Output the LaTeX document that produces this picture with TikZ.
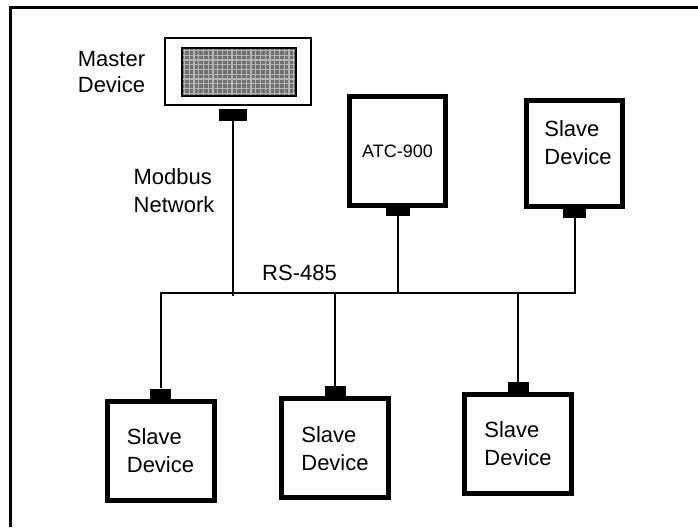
\documentclass[tikz,border=0pt]{standalone}
\usepackage{fontspec}
\setmainfont{Liberation Sans}
\pgfdeclarelayer{edgelayer}
\pgfdeclarelayer{nodelayer}
\pgfsetlayers{edgelayer,nodelayer,main}
\definecolor{screen}{RGB}{112,112,112}
\definecolor{screenline}{RGB}{180,180,180}
\tikzstyle{edge}=[draw=black, line width=2]
\tikzstyle{device}=[rectangle, draw=black, fill=white, line width=5, minimum width=107, minimum height=99, align=left, inner sep=0, font=\fontsize{22}{28}\selectfont]
\tikzstyle{port}=[rectangle, fill=black, minimum width=21, minimum height=10, inner sep=0]
\tikzstyle{lbl}=[align=left, inner sep=0, font=\fontsize{22}{28}\selectfont]

\begin{document}
\begin{tikzpicture}[x=1pt, y=-1pt]
	\useasboundingbox (0,0) rectangle (698,527);
	\draw [line width=3] (698,8) -- (10,8) -- (10,527);
				\begin{pgfonlayer}{nodelayer}
					\node [style=device, line width=2, minimum width=146, minimum height=67] (m) at (238,71.5) {};
					\node [style=port, minimum width=28, minimum height=12, anchor=north] (mp) at (233,109) {};
					\node [style=device, minimum width=96, minimum height=109, font=\fontsize{18}{22}\selectfont] (atc) at (397.5,151) {ATC-900};
					\node [style=port, minimum width=24, minimum height=8, anchor=north] (atcp) at (atc.south) {};
					\node [style=device, minimum width=96, minimum height=106] (s4) at (574.5,153.5) {};
					\node [style=port, minimum width=23, minimum height=9, anchor=north] (s4p) at (s4.south) {};
					\node [style=device] (s1) at (160.5,450.7) {Slave\\Device};
					\node [style=port, anchor=south] (s1p) at (s1.north) {};
					\node [style=device] (s2) at (335,448.2) {Slave\\Device};
					\node [style=port, anchor=south] (s2p) at (s2.north) {};
					\node [style=device] (s3) at (518,444) {Slave\\Device};
					\node [style=port, anchor=south] (s3p) at (s3.north) {};
				\end{pgfonlayer}
				\node [style=lbl] (mtext) at (111.5,72) {Master\\[-2pt]Device};
				\node [style=lbl] (s4text) at (578,143) {Slave\\Device};
				\node [style=lbl] (net) at (174,191) {Modbus\\Network};
				\node [style=lbl] (rs) at (299.5,273) {RS-485};
				% display of the master
				\node [fill=screen, minimum width=114, minimum height=48, inner sep=0] (mscreen) at (239,72) {};
				\foreach \gx in {184.5,189.25,...,295}
					\draw [screenline, line width=1.3] (\gx,48) -- (\gx,96);
				\foreach \gy in {50.5,55.25,...,95}
					\draw [screenline, line width=1.3] (182,\gy) -- (296,\gy);
				\draw [line width=1.5] (mscreen.south west) rectangle (mscreen.north east);
				\begin{pgfonlayer}{edgelayer}
					\coordinate (bus) at (0,293);
					\draw [style=edge] (s1p.north) -- (s1p.north |- bus) -| (s4p.south);
					\draw [style=edge] (s2p.north) -- (s2p.north |- bus);
					\draw [style=edge] (s3p.north) -- (s3p.north |- bus);
					\draw [style=edge] (atcp.south) -- (atcp.south |- bus);
					\draw [style=edge] (mp.south) -- ([yshift=-3pt]mp.south |- bus);
				\end{pgfonlayer}
			\end{tikzpicture}
\end{document}
